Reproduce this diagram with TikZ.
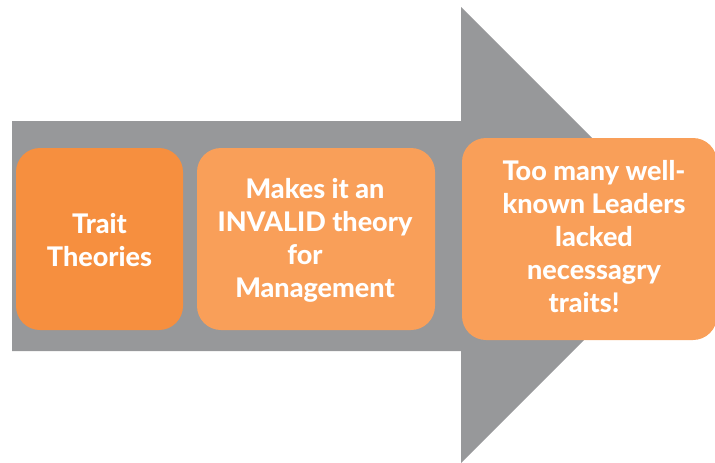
\documentclass[tikz,border=0pt]{standalone}
\usepackage{fontspec}
\setmainfont{Lato}[BoldFont={Lato Heavy}]
\definecolor{arrowgray}{HTML}{97989A}
\definecolor{orangeA}{HTML}{F68F3F}
\definecolor{orangeB}{HTML}{F99F59}
\begin{document}
\begin{tikzpicture}[x=1pt,y=-1pt,
  box/.style={rounded corners=24pt},
  lbl/.style={text=white,font=\fontsize{27}{33}\selectfont\bfseries,align=center,inner sep=0pt}]
\useasboundingbox (0,0) rectangle (715,463);
% arrow
\fill[arrowgray] (12,121) -- (461,121) -- (461,7) -- (689,235) -- (461,463) -- (461,351) -- (12,351) -- cycle;
% boxes
\fill[orangeA,box] (16,148) rectangle (183,330);
\fill[orangeB,box] (197,148) rectangle (435,330);
\fill[orangeB,box] (462,138) rectangle (717,340);
\node[lbl] (t1) at (99.5,240) {Trait\\Theories};
\node[lbl] (t2) at (315,240) {Makes it an\\INVALID theory\\for\rule{20pt}{0pt}\\Management};
\node[lbl] (t3) at (594,237) {Too many well-\\known Leaders\\lacked\\necessagry\\traits!\rule{20pt}{0pt}};
\end{tikzpicture}
\end{document}
